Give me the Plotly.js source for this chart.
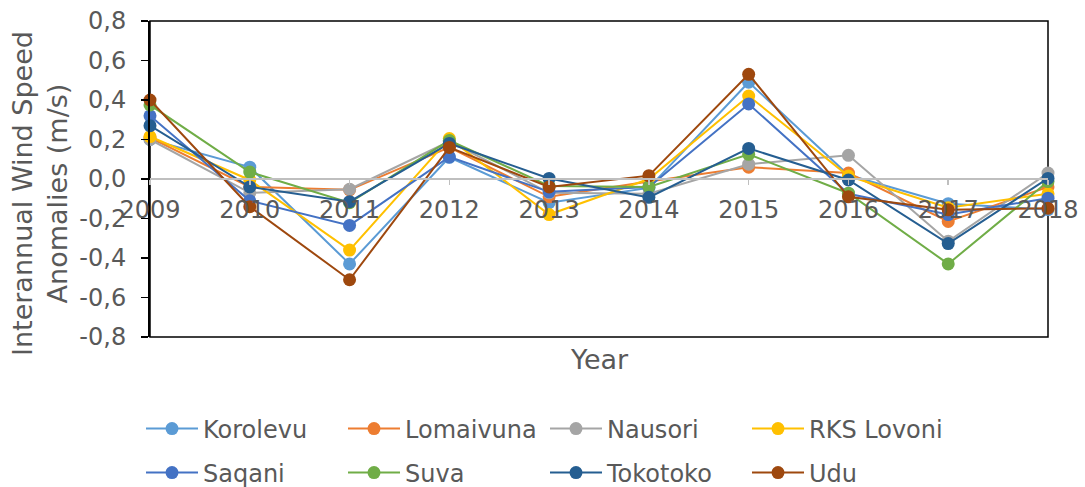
<!DOCTYPE html>
<html>
<head>
<meta charset="utf-8">
<script src="https://cdn.plot.ly/plotly-3.0.1.min.js"></script>
<style>html,body{margin:0;padding:0;background:#fff;}#chart{width:1085px;height:487px;}</style>
</head>
<body>
<div id="chart"></div>
<script>
const years = [2009, 2010, 2011, 2012, 2013, 2014, 2015, 2016, 2017, 2018];
const yearLabels = ['2009','2010','2011','2012','2013','2014','2015','2016','2017','2018'];
const yTicks = [-0.8, -0.6, -0.4, -0.2, 0.0, 0.2, 0.4, 0.6, 0.8];
const yTickLabels = ['-0,8','-0,6','-0,4','-0,2','0,0','0,2','0,4','0,6','0,8'];

const korolevu  = [0.20, 0.06, -0.43, 0.11, -0.12, -0.045, 0.49, 0.02, -0.125, -0.155];
const lomaivuna = [0.21, -0.04, -0.055, 0.16, -0.09, -0.013, 0.06, 0.03, -0.215, -0.04];
const nausori   = [0.20, -0.07, -0.052, 0.19, -0.07, -0.075, 0.075, 0.12, -0.315, 0.03];
const rksLovoni = [0.215, -0.005, -0.36, 0.205, -0.18, 0.0, 0.42, 0.015, -0.145, -0.075];
const saqani    = [0.32, -0.11, -0.235, 0.112, -0.065, -0.04, 0.38, -0.075, -0.18, -0.097];
const suva      = [0.375, 0.035, -0.12, 0.195, -0.035, -0.04, 0.125, -0.072, -0.43, -0.013];
const tokotoko  = [0.27, -0.04, -0.115, 0.18, 0.003, -0.093, 0.155, -0.005, -0.327, 0.003];
const udu       = [0.40, -0.14, -0.51, 0.16, -0.04, 0.017, 0.53, -0.09, -0.156, -0.148];

const seriesNames = ['Korolevu','Lomaivuna','Nausori','RKS Lovoni','Saqani','Suva','Tokotoko','Udu'];
const seriesData = [korolevu, lomaivuna, nausori, rksLovoni, saqani, suva, tokotoko, udu];
const seriesColors = ['#5B9BD5','#ED7D31','#A5A5A5','#FFC000','#4472C4','#70AD47','#255E91','#9E480E'];

const traces = seriesNames.map((name, i) => ({
  type: 'scatter',
  mode: 'lines+markers',
  name: name,
  x: years,
  y: seriesData[i],
  line: {color: seriesColors[i], width: 2},
  marker: {color: seriesColors[i], size: 13},
  cliponaxis: false,
  legend: i < 4 ? 'legend' : 'legend2'
}));

const txt = '#595959';
const fam = 'DejaVu Sans, Verdana, sans-serif';
const legendCommon = {
  orientation: 'h',
  xref: 'container', yref: 'container',
  xanchor: 'left', yanchor: 'middle',
  x: 141 / 1085,
  font: {family: fam, size: 24, color: txt},
  entrywidth: 135, entrywidthmode: 'pixels',
  itemwidth: 52,
  bgcolor: 'rgba(0,0,0,0)',
  traceorder: 'normal'
};

const layout = {
  width: 1085, height: 487,
  margin: {l: 150, r: 37, t: 21, b: 150},
  paper_bgcolor: '#fff', plot_bgcolor: '#fff',
  font: {family: fam, size: 24, color: txt},
  showlegend: true,
  legend: Object.assign({}, legendCommon, {y: 1 - 429/487}),
  legend2: Object.assign({}, legendCommon, {y: 1 - 473/487}),
  xaxis: {
    range: [2009, 2018],
    tickvals: years, ticktext: yearLabels,
    anchor: 'free', position: 0.5,
    showline: true, linecolor: '#BFBFBF', linewidth: 2,
    ticks: 'outside', ticklen: 5, tickwidth: 1.5, tickcolor: '#BFBFBF',
    ticklabelstandoff: 4,
    showgrid: false, zeroline: false,
    tickfont: {family: fam, size: 24, color: txt}
  },
  yaxis: {
    range: [-0.8, 0.8],
    tickvals: yTicks, ticktext: yTickLabels,
    showline: true, linecolor: '#000', linewidth: 2,
    ticks: 'outside', ticklen: 7, tickwidth: 1.5, tickcolor: '#000',
    ticklabelstandoff: 10,
    showgrid: false, zeroline: false,
    tickfont: {family: fam, size: 24, color: txt},
    automargin: false
  },
  shapes: [{type: 'rect', xref: 'paper', yref: 'paper', x0: 0, x1: 1, y0: 0, y1: 1,
            line: {color: '#000', width: 1.5}, layer: 'below'}],
  annotations: [
    {text: 'Year', xref: 'paper', yref: 'paper', x: 0.5, y: 0, yshift: -22,
     yanchor: 'middle', showarrow: false,
     font: {family: fam, size: 27, color: txt}},
    {text: 'Interannual Wind Speed<br>Anomalies (m/s)', xref: 'paper', yref: 'paper',
     x: (40 - 150) / 898, y: (337 - 194) / 316, xanchor: 'center', yanchor: 'middle',
     textangle: -90, showarrow: false,
     font: {family: fam, size: 27, color: txt}}
  ]
};

Plotly.newPlot('chart', traces, layout, {displayModeBar: false, staticPlot: true});
</script>
</body>
</html>
